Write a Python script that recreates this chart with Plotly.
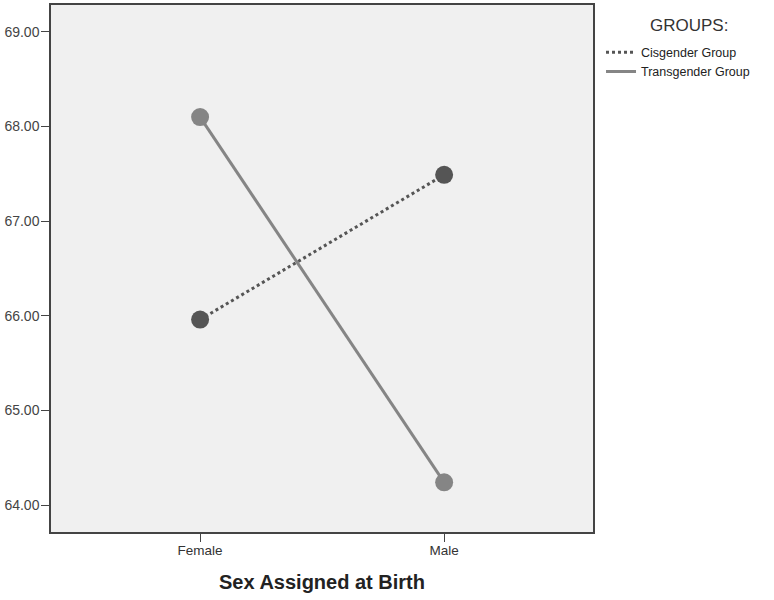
import plotly.graph_objects as go

sexes = ["Female", "Male"]
cis_values = [65.96, 67.49]
trans_values = [68.10, 64.24]
y_ticks = [64, 65, 66, 67, 68, 69]

CIS_COLOR = "#555555"
TRANS_COLOR = "#858585"

fig = go.Figure()
# lines (shown in the legend)
fig.add_trace(go.Scatter(
    x=sexes, y=cis_values, mode="lines", name="Cisgender Group",
    line=dict(color=CIS_COLOR, width=3, dash="dot"), legendgroup="cis",
))
fig.add_trace(go.Scatter(
    x=sexes, y=trans_values, mode="lines", name="Transgender Group",
    line=dict(color=TRANS_COLOR, width=3), legendgroup="trans",
))
# markers (hidden from the legend)
fig.add_trace(go.Scatter(
    x=sexes, y=cis_values, mode="markers", showlegend=False, legendgroup="cis",
    marker=dict(color=CIS_COLOR, size=18),
))
fig.add_trace(go.Scatter(
    x=sexes, y=trans_values, mode="markers", showlegend=False, legendgroup="trans",
    marker=dict(color=TRANS_COLOR, size=18),
))

axis_style = dict(
    showgrid=False, zeroline=False, automargin=False,
    showline=True, linecolor="#444444", linewidth=1.5, mirror=True,
    ticks="outside", ticklen=8, tickcolor="#444444",
)

# plot area in pixels
L, R, T, B = 51, 181, 5, 68
plot_w = 774 - L - R
plot_h = 600 - T - B

fig.update_layout(
    width=774, height=600,
    margin=dict(l=L, r=R, t=T, b=B),
    paper_bgcolor="white",
    plot_bgcolor="#f0f0f0",
    font=dict(family="Liberation Sans, Arial", size=12, color="#333333"),
    legend=dict(
        x=1.0148, y=0.938, xanchor="left", yanchor="top",
        font=dict(size=12.5, color="#222222"),
        itemwidth=30, tracegroupgap=0,
        bgcolor="rgba(0,0,0,0)",
    ),
    annotations=[dict(
        text="GROUPS:", xref="paper", yref="paper", showarrow=False,
        x=(689 - L) / plot_w, y=1 - (25 - T) / plot_h,
        xanchor="center", yanchor="middle",
        font=dict(size=17, color="#333333"),
    )],
    xaxis=dict(
        type="category", range=[-0.611, 1.61],
        tickfont=dict(size=13.5, color="#333333"),
        ticklabelstandoff=-3,
        title=dict(text="<b>Sex Assigned at Birth</b>", font=dict(size=20, color="#222222"), standoff=18),
        **axis_style,
    ),
    yaxis=dict(
        range=[63.715, 69.285], tickvals=y_ticks,
        ticktext=[f"{v:.2f}" for v in y_ticks],
        tickfont=dict(size=14, color="#444444"),
        ticklabelstandoff=-1,
        **axis_style,
    ),
)

fig.write_html("out.html", config={"displayModeBar": False},
               post_script="document.body.style.margin='0';")
